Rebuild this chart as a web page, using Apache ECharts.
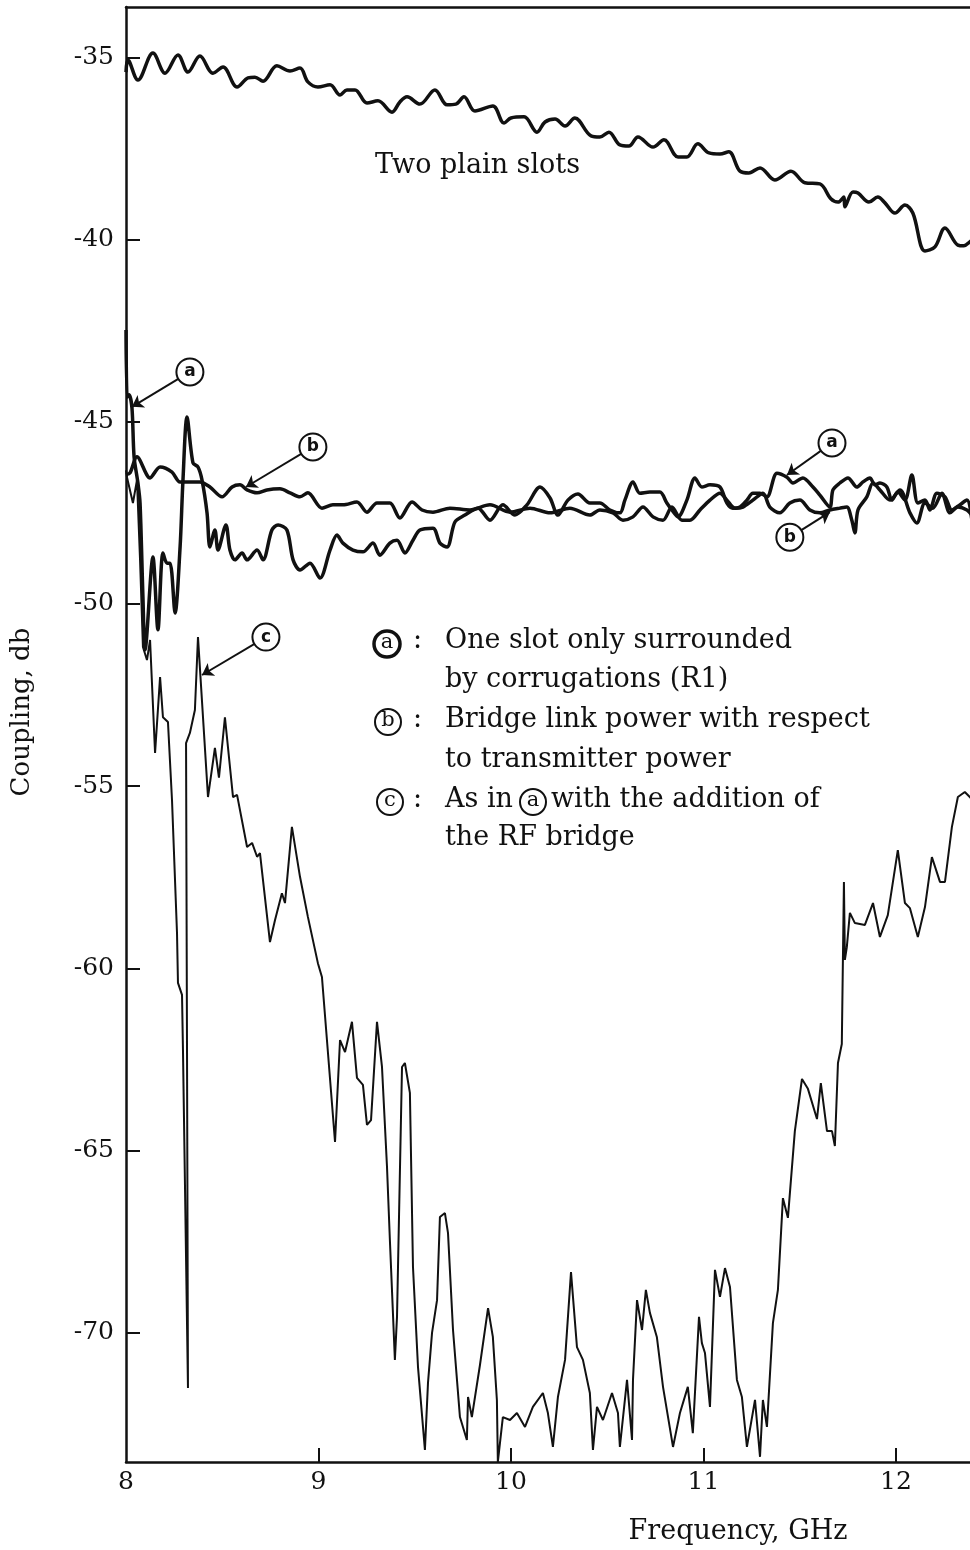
<!DOCTYPE html>
<html>
<head>
<meta charset="utf-8">
<title>Coupling vs frequency</title>
<script src="https://cdn.jsdelivr.net/npm/echarts@6.0.0/dist/echarts.min.js"></script>
<style>
	html, body { margin: 0; padding: 0; background: #fff; }
	#charts { width: 970px; height: 1550px; }
</style>
</head>
<body>
<div id="charts"></div>
<script>
// frequency (GHz), coupling (db)
var twoPlainSlots = [
	[8.00,-35.40],[8.01,-35.07],[8.062,-35.62],[8.14,-34.88],[8.203,-35.43],[8.27,-34.93],[8.322,-35.40],[8.384,-34.96],
	[8.452,-35.43],[8.504,-35.26],[8.577,-35.81],[8.634,-35.56],[8.67,-35.54],[8.712,-35.65],[8.784,-35.23],[8.852,-35.37],
	[8.904,-35.29],[8.945,-35.67],[8.997,-35.81],[9.06,-35.75],[9.112,-36.03],[9.148,-35.89],[9.19,-35.89],[9.252,-36.25],
	[9.309,-36.19],[9.382,-36.50],[9.423,-36.22],[9.46,-36.08],[9.527,-36.28],[9.605,-35.89],[9.668,-36.30],[9.714,-36.28],
	[9.756,-36.08],[9.813,-36.47],[9.906,-36.33],[9.964,-36.80],[10.0,-36.66],[10.068,-36.63],[10.135,-37.05],[10.177,-36.77],
	[10.229,-36.69],[10.281,-36.88],[10.332,-36.66],[10.416,-37.15],[10.462,-37.18],[10.509,-37.05],[10.566,-37.40],[10.613,-37.43],
	[10.66,-37.18],[10.738,-37.46],[10.795,-37.26],[10.868,-37.73],[10.914,-37.73],[10.971,-37.37],[11.029,-37.62],[11.086,-37.65],
	[11.132,-37.59],[11.19,-38.12],[11.236,-38.17],[11.294,-38.03],[11.371,-38.36],[11.455,-38.12],[11.527,-38.44],[11.605,-38.47],
	[11.662,-38.88],[11.699,-38.97],[11.73,-38.83],[11.735,-39.10],[11.777,-38.69],[11.803,-38.72],[11.86,-38.97],[11.906,-38.83],
	[11.943,-38.99],[11.995,-39.27],[12.047,-39.05],[12.088,-39.27],[12.151,-40.31],[12.203,-40.20],[12.255,-39.68],[12.322,-40.15],
	[12.353,-40.17],[12.384,-40.06],[12.42,-39.9]
];

// (a) one slot only surrounded by corrugations
var slotCorrugated = [
	[8.0,-42.48],[8.006,-44.32],[8.016,-44.26],[8.031,-44.62],[8.042,-45.96],[8.062,-46.68],[8.073,-47.23],[8.088,-49.81],
	[8.099,-51.26],[8.14,-48.71],[8.166,-50.71],[8.192,-48.60],[8.213,-48.88],[8.229,-48.88],[8.255,-50.25],[8.281,-48.44],
	[8.296,-46.60],[8.317,-44.87],[8.348,-46.13],[8.374,-46.24],[8.395,-46.60],[8.421,-47.50],[8.436,-48.44],[8.462,-47.97],
	[8.478,-48.52],[8.519,-47.83],[8.54,-48.52],[8.566,-48.79],[8.603,-48.60],[8.629,-48.79],[8.681,-48.52],[8.712,-48.79],
	[8.758,-47.97],[8.79,-47.83],[8.836,-47.97],[8.868,-48.79],[8.904,-49.07],[8.956,-48.88],[9.008,-49.29],[9.06,-48.52],
	[9.096,-48.11],[9.127,-48.33],[9.179,-48.52],[9.231,-48.57],[9.283,-48.33],[9.319,-48.66],[9.371,-48.33],[9.408,-48.25],
	[9.449,-48.60],[9.491,-48.25],[9.527,-47.97],[9.595,-47.92],[9.631,-48.33],[9.668,-48.44],[9.709,-47.75],[9.761,-47.56],
	[9.829,-47.37],[9.891,-47.70],[9.958,-47.28],[10.021,-47.56],[10.083,-47.28],[10.151,-46.79],[10.203,-47.09],[10.244,-47.56],
	[10.296,-47.15],[10.348,-46.98],[10.41,-47.23],[10.462,-47.23],[10.514,-47.42],[10.566,-47.50],[10.592,-47.15],[10.634,-46.65],
	[10.67,-46.96],[10.722,-46.93],[10.774,-46.93],[10.81,-47.23],[10.836,-47.42],[10.868,-47.61],[10.914,-47.15],[10.956,-46.54],
	[10.992,-46.79],[11.034,-46.73],[11.086,-46.79],[11.122,-47.23],[11.153,-47.37],[11.19,-47.34],[11.226,-47.15],[11.257,-46.96],
	[11.294,-46.96],[11.33,-47.06],[11.382,-46.41],[11.434,-46.52],[11.465,-46.68],[11.517,-46.54],[11.569,-46.79],[11.605,-47.01],
	[11.657,-47.34],[11.673,-46.87],[11.709,-46.68],[11.751,-46.54],[11.797,-46.79],[11.829,-46.65],[11.865,-46.54],[11.891,-46.73],
	[11.917,-46.68],[11.953,-46.79],[11.979,-47.15],[12.01,-46.93],[12.047,-47.15],[12.083,-46.46],[12.114,-47.23],[12.151,-47.15],
	[12.177,-47.42],[12.213,-46.96],[12.255,-47.06],[12.291,-47.42],[12.332,-47.28],[12.369,-47.15],[12.395,-47.70],[12.42,-48.9]
];

// (b) bridge link power with respect to transmitter power
var bridgeLink = [
	[8.0,-46.45],[8.021,-46.40],[8.057,-45.96],[8.125,-46.54],[8.177,-46.24],[8.239,-46.38],[8.281,-46.65],[8.384,-46.65],
	[8.436,-46.79],[8.499,-47.06],[8.551,-46.79],[8.592,-46.73],[8.629,-46.87],[8.681,-46.95],[8.732,-46.87],[8.80,-46.84],
	[8.852,-46.95],[8.904,-47.06],[8.945,-46.95],[9.018,-47.37],[9.075,-47.28],[9.127,-47.28],[9.20,-47.20],[9.252,-47.48],
	[9.304,-47.23],[9.371,-47.23],[9.423,-47.64],[9.486,-47.20],[9.538,-47.42],[9.595,-47.48],[9.683,-47.37],[9.787,-47.42],
	[9.891,-47.28],[9.995,-47.48],[10.099,-47.37],[10.203,-47.50],[10.306,-47.37],[10.41,-47.56],[10.462,-47.42],[10.53,-47.50],
	[10.582,-47.70],[10.634,-47.61],[10.686,-47.34],[10.738,-47.61],[10.79,-47.70],[10.836,-47.34],[10.888,-47.70],[10.93,-47.70],
	[10.982,-47.42],[11.034,-47.15],[11.086,-46.96],[11.122,-47.15],[11.164,-47.37],[11.205,-47.34],[11.257,-47.15],[11.309,-46.96],
	[11.345,-47.34],[11.397,-47.50],[11.449,-47.23],[11.501,-47.15],[11.553,-47.42],[11.605,-47.50],[11.657,-47.42],[11.709,-47.37],
	[11.745,-47.34],[11.771,-47.70],[11.787,-48.05],[11.803,-47.42],[11.849,-47.06],[11.881,-46.68],[11.917,-46.87],[11.969,-47.15],
	[12.021,-46.87],[12.073,-47.50],[12.109,-47.78],[12.151,-47.23],[12.192,-47.37],[12.239,-46.96],[12.281,-47.50],[12.322,-47.34],
	[12.369,-47.42],[12.395,-47.56]
];

// (c) as in (a) with the addition of the RF bridge
var withRfBridge = [
	[8.0,-46.33],[8.005,-46.52],[8.036,-47.23],[8.057,-46.60],[8.073,-48.79],[8.088,-51.18],[8.109,-51.54],[8.125,-50.99],
	[8.151,-54.09],[8.177,-52.01],[8.192,-53.11],[8.218,-53.24],[8.239,-55.38],[8.265,-59.03],[8.27,-60.40],[8.291,-60.73],
	[8.296,-62.24],[8.322,-71.52],[8.317,-62.24],[8.312,-53.82],[8.332,-53.54],[8.358,-52.91],[8.374,-50.91],[8.426,-55.30],
	[8.462,-53.95],[8.483,-54.77],[8.514,-53.11],[8.556,-55.30],[8.577,-55.24],[8.629,-56.67],[8.655,-56.56],[8.681,-56.94],
	[8.696,-56.84],[8.748,-59.28],[8.774,-58.68],[8.81,-57.94],[8.826,-58.21],[8.862,-56.12],[8.904,-57.49],[8.945,-58.59],
	[8.997,-59.86],[9.018,-60.24],[9.044,-61.97],[9.086,-64.77],[9.112,-61.97],[9.138,-62.30],[9.174,-61.47],[9.20,-63.01],
	[9.231,-63.20],[9.252,-64.30],[9.273,-64.17],[9.304,-61.47],[9.33,-62.71],[9.356,-65.45],[9.371,-67.46],[9.397,-70.75],
	[9.408,-69.57],[9.434,-62.71],[9.449,-62.60],[9.475,-63.42],[9.491,-68.20],[9.517,-70.94],[9.553,-73.22],[9.569,-71.38],
	[9.59,-70.01],[9.616,-69.11],[9.631,-66.83],[9.657,-66.72],[9.673,-67.27],[9.699,-69.93],[9.735,-72.32],[9.771,-72.95],
	[9.777,-71.77],[9.797,-72.32],[9.839,-70.89],[9.881,-69.33],[9.906,-70.12],[9.927,-71.85],[9.932,-73.55],[9.958,-72.32],
	[9.995,-72.40],[10.031,-72.21],[10.073,-72.59],[10.114,-72.04],[10.166,-71.66],[10.192,-72.21],[10.218,-73.14],[10.244,-71.77],
	[10.281,-70.75],[10.312,-68.34],[10.343,-70.40],[10.374,-70.75],[10.41,-71.66],[10.426,-73.22],[10.447,-72.04],[10.478,-72.40],
	[10.525,-71.66],[10.556,-72.21],[10.566,-73.14],[10.603,-71.30],[10.629,-72.95],[10.634,-71.30],[10.655,-69.11],[10.681,-69.93],
	[10.701,-68.83],[10.722,-69.46],[10.758,-70.12],[10.79,-71.49],[10.842,-73.14],[10.878,-72.21],[10.919,-71.49],[10.945,-72.76],
	[10.977,-69.57],[10.992,-70.29],[11.008,-70.56],[11.034,-72.04],[11.06,-68.28],[11.086,-69.02],[11.112,-68.23],[11.138,-68.75],
	[11.174,-71.30],[11.20,-71.77],[11.226,-73.14],[11.268,-71.85],[11.294,-73.41],[11.309,-71.85],[11.33,-72.59],[11.361,-69.74],
	[11.387,-68.83],[11.413,-66.31],[11.439,-66.85],[11.475,-64.47],[11.512,-63.04],[11.543,-63.31],[11.59,-64.14],[11.61,-63.15],
	[11.642,-64.47],[11.668,-64.47],[11.683,-64.88],[11.699,-62.60],[11.719,-62.08],[11.73,-57.63],[11.735,-59.77],[11.745,-59.42],
	[11.761,-58.48],[11.787,-58.76],[11.839,-58.81],[11.881,-58.21],[11.917,-59.14],[11.958,-58.54],[12.01,-56.76],[12.047,-58.21],
	[12.073,-58.35],[12.114,-59.14],[12.151,-58.32],[12.187,-56.95],[12.229,-57.63],[12.255,-57.63],[12.291,-56.12],[12.322,-55.30],
	[12.358,-55.16],[12.384,-55.30],[12.42,-55.5]
];

// tick labels
var freqTicks = [8, 9, 10, 11, 12];
var dbTicks = [-70, -65, -60, -55, -50, -45, -40, -35];

// circled callouts on the curves: [freq, db, letter]
var callouts = [[8.332,-43.63,'a'],[8.971,-45.69,'b'],[11.668,-45.58,'a'],[11.449,-48.17,'b'],[8.727,-50.91,'c']];
// arrows from callout to curve: [fromFreq, fromDb, toFreq, toDb]
var arrows = [
	[8.332,-43.63,8.031,-44.59],[8.971,-45.69,8.623,-46.79],[11.668,-45.58,11.434,-46.46],
	[11.449,-48.17,11.657,-47.48],[8.727,-50.91,8.395,-51.95]
];

var SERIF = '"DejaVu Serif", "Liberation Serif", serif';

var CouplingChart = {

	init: function () {
		this.chart = echarts.init(document.getElementById('charts'));
		this.renderChart();
	},

	// legend block and free texts
	buildGraphic: function () {
		var els = [];
		var txt = function (x, y, s, size, extra) {
			var e = {
				type: 'text', x: x, y: y,
				style: { text: s, fill: '#111', fontSize: size || 27, fontFamily: SERIF, align: 'left', verticalAlign: 'middle' }
			};
			if (extra) { for (var k in extra) { e[k] = extra[k]; } }
			return e;
		};
		var ring = function (cx, cy, letter, w) {
			els.push({ type: 'circle', shape: { cx: cx, cy: cy, r: 13 }, style: { fill: '#fff', stroke: '#111', lineWidth: w } });
			els.push({ type: 'text', x: cx, y: cy - 1, style: { text: letter, fill: '#111', fontSize: 21, fontFamily: SERIF, align: 'center', verticalAlign: 'middle' } });
		};

		els.push(txt(375, 166, 'Two plain slots'));

		// legend rows
		ring(387, 644, 'a', 3.5);
		els.push(txt(413, 641, ':'));
		els.push(txt(445, 641, 'One slot only surrounded'));
		els.push(txt(445, 680, 'by corrugations (R1)'));
		ring(388, 722, 'b', 2);
		els.push(txt(413, 720, ':'));
		els.push(txt(445, 720, 'Bridge link power with respect'));
		els.push(txt(445, 760, 'to transmitter power'));
		ring(390, 802, 'c', 2);
		els.push(txt(413, 800, ':'));
		els.push(txt(445, 800, 'As in'));
		ring(533, 802, 'a', 2);
		els.push(txt(551, 800, 'with the addition of'));
		els.push(txt(445, 838, 'the RF bridge'));

		// axis names
		els.push(txt(22, 712, 'Coupling, db', 26, { rotation: Math.PI / 2 }));
		els[els.length - 1].style.align = 'center';
		els.push(txt(738, 1532, 'Frequency, GHz', 27));
		els[els.length - 1].style.align = 'center';
		return els;
	},

	renderChart: function () {
		var lineBase = function (name, data, width, smooth) {
			return {
				name: name, type: 'line', data: data, showSymbol: false, symbol: 'none',
				smooth: smooth, lineStyle: { color: '#111', width: width }, z: 3
			};
		};

		// the plot runs off the right edge of the picture: cut at 12.385 GHz
		var option = {
			animation: false,
			backgroundColor: '#fff',
			grid: { left: 126, right: 0, top: 7, bottom: 88, containLabel: false },
			xAxis: [{
				type: 'value', min: 8, max: 12.385,
				axisLine: { show: true, lineStyle: { color: '#111', width: 2.5 } },
				axisTick: { show: true, inside: true, length: 14, customValues: [9, 10, 11, 12], lineStyle: { color: '#111', width: 2 } },
				axisLabel: { customValues: freqTicks, margin: 8, color: '#111', fontSize: 25, fontFamily: SERIF },
				splitLine: { show: false }
			}, {
				type: 'value', position: 'top', min: 8, max: 12.385,
				axisLine: { show: true, lineStyle: { color: '#111', width: 2.5 } },
				axisTick: { show: false }, axisLabel: { show: false }, splitLine: { show: false }
			}],
			yAxis: {
				type: 'value', min: -73.553, max: -33.614,
				axisLine: { show: true, lineStyle: { color: '#111', width: 2.5 } },
				axisTick: { show: true, inside: true, length: 14, customValues: dbTicks, lineStyle: { color: '#111', width: 2 } },
				axisLabel: { customValues: dbTicks, margin: 12, color: '#111', fontSize: 25, fontFamily: SERIF },
				splitLine: { show: false }
			},
			graphic: { elements: this.buildGraphic() },
			series: [
				lineBase('Two plain slots', twoPlainSlots, 3.5, 0.35),
				lineBase('a', slotCorrugated, 3.5, 0.3),
				lineBase('b', bridgeLink, 3.5, 0.3),
				lineBase('c', withRfBridge, 2, false),
				{
					// callout arrows
					type: 'lines', coordinateSystem: 'cartesian2d', polyline: false,
					symbol: ['none', 'arrow'], symbolSize: 11,
					lineStyle: { color: '#111', width: 2, opacity: 1 },
					data: arrows.map(function (a) { return { coords: [[a[0], a[1]], [a[2], a[3]]] }; }),
					z: 5
				},
				{
					// circled letters
					type: 'scatter', symbol: 'circle', symbolSize: 27,
					itemStyle: { color: '#fff', borderColor: '#111', borderWidth: 2, opacity: 1 },
					label: { show: true, position: 'inside', formatter: '{b}', color: '#111', fontSize: 17, fontWeight: 'bold', fontFamily: '"DejaVu Sans", sans-serif' },
					data: callouts.map(function (c) { return { name: c[2], value: [c[0], c[1]] }; }),
					z: 6
				}
			]
		};

		this.chart.setOption(option);
	}
};

CouplingChart.init();
</script>
</body>
</html>
